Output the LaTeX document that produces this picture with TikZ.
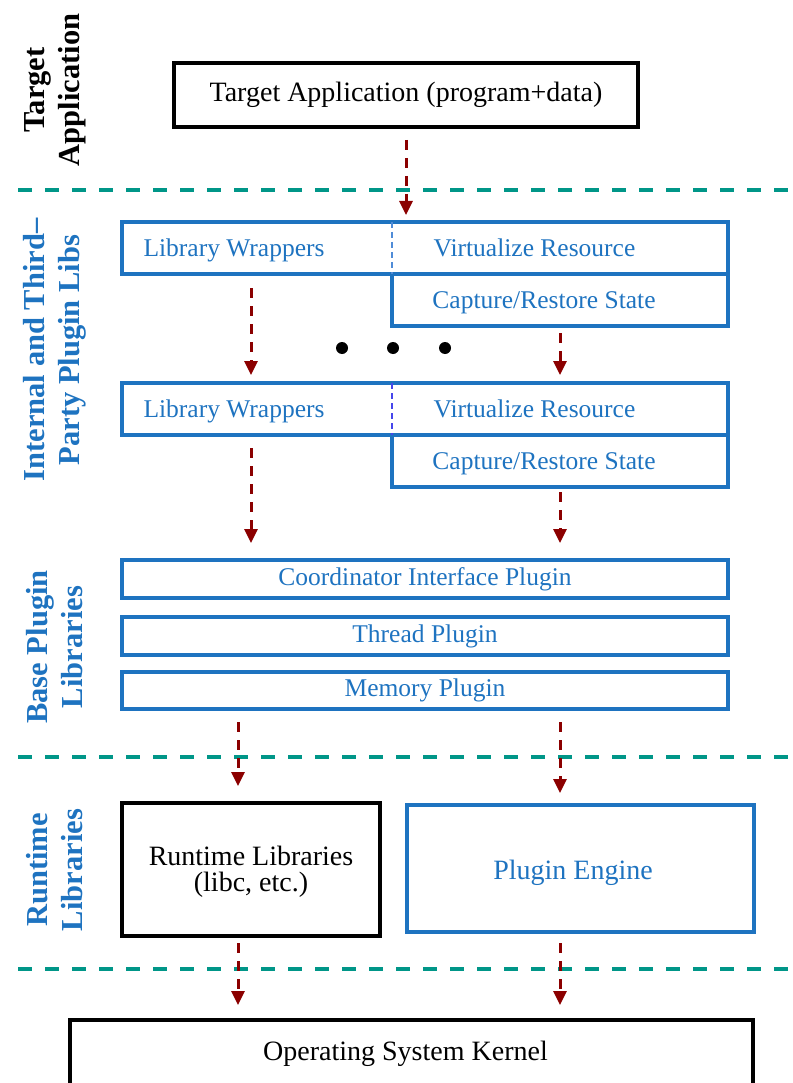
\documentclass[tikz,border=0pt]{standalone}
\usepackage{fontspec}
\setmainfont{Liberation Serif}
\usetikzlibrary{arrows.meta}
\definecolor{plugblue}{RGB}{30,115,192}
\definecolor{flowred}{RGB}{139,0,0}
\definecolor{layerteal}{RGB}{0,150,136}
\definecolor{divlight}{RGB}{80,140,215}
\definecolor{divdeep}{RGB}{70,70,235}
\newcommand\txtbig{\fontsize{28}{32}\selectfont}
\newcommand\txtblue{\fontsize{25.5}{29}\selectfont}
\newcommand\txtside{\bfseries\fontsize{30.5}{35}\selectfont}
\begin{document}
\begin{tikzpicture}[x=1pt,y=-1pt,
  blackbox/.style={draw=black, line width=3.5pt, inner sep=0pt, outer sep=0pt, font=\txtbig},
  bluebox/.style={draw=plugblue, line width=4pt, inner sep=0pt, outer sep=0pt, text=plugblue, font=\txtblue},
  bluetxt/.style={text=plugblue, font=\txtblue, inner sep=0pt, anchor=base},
  sidelbl/.style={rotate=90, align=center, font=\txtside, inner sep=0pt},
  layer/.style={draw=layerteal, line width=4pt, dash pattern=on 14pt off 13pt},
  flow/.style={draw=flowred, line width=3pt, dash pattern=on 10pt off 8pt,
    -{Triangle[length=14pt,width=13pt]}},
  divider/.style={line width=1.5pt, dash pattern=on 6pt off 4pt},
  dot/.style={circle, fill=black, inner sep=0pt, minimum size=12pt}
]
\clip (0,0) rectangle (792,1083);

% layer separators
\draw[layer] (18,190) -- (792,190);
\draw[layer] (18,757) -- (792,757);
\draw[layer] (18,969) -- (792,969);

% layer titles
\node[sidelbl, text=black] (labTA) at (55,90) {Target\\Application};
\node[sidelbl, text=plugblue] (labIP) at (55,350) {Internal and Third--\\Party Plugin Libs};
\node[sidelbl, text=plugblue] (labBP) at (55,647) {Base Plugin\\Libraries};
\node[sidelbl, text=plugblue] (labRT) at (55,870) {Runtime\\Libraries};

% target application
\node[blackbox, minimum width=464pt, minimum height=64pt] (tgt) at (406,95) {Target Application (program+data)};

% first plugin library
\node[bluebox, minimum width=606pt, minimum height=52pt] (row1) at (425,248) {};
\node[bluebox, minimum width=336pt, minimum height=52pt] (cap1) at (560,300) {};
\draw[divider, draw=divlight] (row1.north -| cap1.west) -- (cap1.north west);
\node[bluetxt] (lw1) at (234,256) {Library Wrappers};
\node[bluetxt] (vr1) at (534.5,256) {Virtualize Resource};
\node[bluetxt] (cr1) at (544,308) {Capture/Restore State};

% ellipsis
\node[dot] (d1) at (342,348) {};
\node[dot] (d2) at (393,348) {};
\node[dot] (d3) at (445,348) {};

% second plugin library
\node[bluebox, minimum width=606pt, minimum height=52pt] (row2) at (425,409) {};
\node[bluebox, minimum width=336pt, minimum height=52pt] (cap2) at (560,461) {};
\draw[divider, draw=divdeep] (row2.north -| cap2.west) -- (cap2.north west);
\node[bluetxt] (lw2) at (234,417) {Library Wrappers};
\node[bluetxt] (vr2) at (534.5,417) {Virtualize Resource};
\node[bluetxt] (cr2) at (544,469) {Capture/Restore State};

% base plugins
\node[bluebox, minimum width=606pt, minimum height=38pt] (coord) at (425,579) {Coordinator Interface Plugin};
\node[bluebox, minimum width=606pt, minimum height=38pt] (thread) at (425,636) {Thread Plugin};
\node[bluebox, minimum width=606pt, minimum height=37pt] (mem) at (425,690.5) {Memory Plugin};

% runtime
\node[blackbox, minimum width=258pt, minimum height=133pt] (rtl) at (251,869.5) {};
\node[font=\txtbig, align=center, inner sep=0pt] (rtltxt) at (251,872) {Runtime Libraries\\[-6pt](libc, etc.)};
\node[bluebox, minimum width=347pt, minimum height=127pt] (eng) at (580.5,868.5) {};
\node[font=\txtbig, text=plugblue, inner sep=0pt, anchor=base] (engtxt) at (573,879) {Plugin Engine};

% kernel
\node[blackbox, minimum width=683pt, minimum height=90pt] (kbox) at (411.5,1065) {};
\node[font=\txtbig, inner sep=0pt, anchor=base] (ktxt) at (405.5,1060) {Operating System Kernel};

% flow columns
\coordinate (colA) at (251,0);
\coordinate (colB) at (238,0);

% flow arrows
\draw[flow, shorten <=13pt, shorten >=7pt] (tgt.south) -- (tgt.south |- row1.north);
\draw[flow, shorten <=14pt, shorten >=8pt] (row1.south -| colA) -- (row2.north -| colA);
\draw[flow, shorten <=7pt, shorten >=8pt] (cap1.south) -- (cap1.south |- row2.north);
\draw[flow, shorten <=13pt, shorten >=17pt] (row2.south -| colA) -- (coord.north -| colA);
\draw[flow, shorten <=5pt, shorten >=17pt] (cap2.south) -- (cap2.south |- coord.north);
\draw[flow, shorten <=13pt, shorten >=17pt] (mem.south -| colB) -- (rtl.north -| colB);
\draw[flow, shorten <=13pt, shorten >=12pt] (mem.south -| cap2.south) -- (eng.north -| cap2.south);
\draw[flow, shorten <=7pt, shorten >=15pt] (rtl.south -| colB) -- (kbox.north -| colB);
\draw[flow, shorten <=11pt, shorten >=15pt] (eng.south -| cap2.south) -- (kbox.north -| cap2.south);
\end{tikzpicture}
\end{document}
